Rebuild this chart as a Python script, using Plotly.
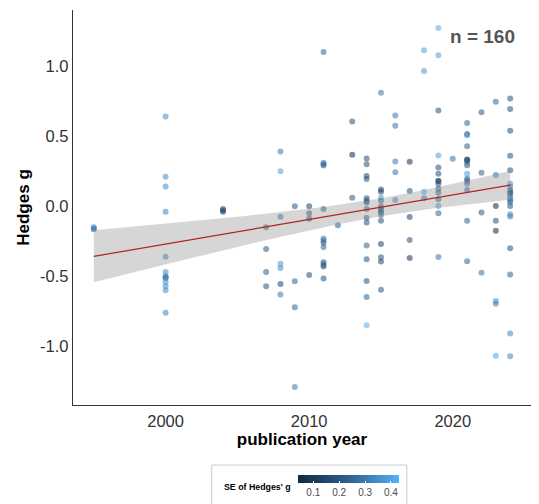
import numpy as np
import plotly.graph_objects as go

# Effect sizes (Hedges g), publication year and standard error of each effect
year = (
    [1995] * 3
    + [2000] * 13
    + [2004] * 3
    + [2007] * 4
    + [2008] * 7
    + [2009] * 4
    + [2010] * 4
    + [2011] * 13
    + [2012] * 1
    + [2013] * 3
    + [2014] * 15
    + [2015] * 15
    + [2016] * 5
    + [2017] * 5
    + [2018] * 4
    + [2019] * 15
    + [2020] * 1
    + [2021] * 15
    + [2022] * 4
    + [2023] * 8
    + [2024] * 21
)

hedges_g = [
    -0.15, -0.165, -0.16,
    0.64, 0.21, 0.14, -0.04, -0.36, -0.47, -0.50, -0.51, -0.51, -0.54, -0.57, -0.60, -0.76,
    -0.02, -0.04, -0.03,
    -0.15, -0.305, -0.47, -0.57,
    0.39, 0.25, -0.075, -0.41, -0.44, -0.555, -0.63,
    0.0, -0.535, -0.72, -1.29,
    0.0, -0.05, -0.09, -0.49,
    1.10, 0.31, 0.30, 0.29, -0.02, -0.23, -0.245, -0.26, -0.29, -0.40, -0.42, -0.43, -0.515,
    -0.135,
    0.605, 0.367, 0.06,
    0.34, 0.30, 0.215, 0.195, 0.057, 0.04, 0.026, -0.02, -0.083, -0.116, -0.28, -0.378, -0.534, -0.648, -0.85,
    0.81, 0.12, 0.104, 0.062, 0.04, 0.0, -0.016, -0.03, -0.045, -0.062, -0.104, -0.27, -0.364, -0.395, -0.596,
    0.648, 0.574, 0.32, 0.243, 0.045,
    0.317, 0.109, -0.076, -0.24, -0.37,
    1.113, 0.965, 0.104, 0.057,
    1.272, 1.078, 0.683, 0.362, 0.277, 0.232, 0.18, 0.18, 0.16, 0.125, 0.097, 0.05, 0.002, -0.05, -0.362,
    0.338,
    0.593, 0.515, 0.506, 0.428, 0.333, 0.33, 0.317, 0.293, 0.232, 0.196, 0.18, 0.161, 0.116, -0.104, -0.392,
    0.671, 0.239, -0.045, -0.475,
    0.745, 0.222, 0.002, -0.104, -0.175, -0.676, -0.695, -1.066,
    0.768, 0.693, 0.539, 0.36, 0.257, 0.163, 0.14, 0.116, 0.10, 0.092, 0.069, 0.05, 0.045, 0.03, 0.002,
    -0.057, -0.073, -0.30, -0.487, -0.908, -1.071,
]

se_g = [
    0.30, 0.30, 0.30,
    0.35, 0.35, 0.35, 0.33, 0.30, 0.35, 0.30, 0.30, 0.30, 0.35, 0.35, 0.35, 0.33,
    0.15, 0.15, 0.15,
    0.22, 0.22, 0.22, 0.22,
    0.30, 0.40, 0.25, 0.38, 0.35, 0.15, 0.30,
    0.22, 0.25, 0.25, 0.30,
    0.15, 0.18, 0.15, 0.18,
    0.25, 0.30, 0.25, 0.25, 0.20, 0.30, 0.28, 0.22, 0.25, 0.15, 0.20, 0.22, 0.20,
    0.22,
    0.20, 0.05, 0.22,
    0.20, 0.20, 0.15, 0.20, 0.20, 0.20, 0.15, 0.20, 0.20, 0.20, 0.25, 0.20, 0.20, 0.25, 0.43,
    0.30, 0.10, 0.15, 0.40, 0.20, 0.20, 0.25, 0.20, 0.15, 0.25, 0.20, 0.15, 0.20, 0.15, 0.22,
    0.30, 0.30, 0.30, 0.30, 0.30,
    0.08, 0.20, 0.15, 0.20, 0.08,
    0.40, 0.38, 0.40, 0.25,
    0.42, 0.40, 0.20, 0.40, 0.20, 0.20, 0.10, 0.15, 0.20, 0.20, 0.20, 0.20, 0.35, 0.25, 0.30,
    0.28,
    0.25, 0.20, 0.35, 0.25, 0.08, 0.15, 0.20, 0.20, 0.38, 0.25, 0.20, 0.25, 0.20, 0.25, 0.25,
    0.22, 0.25, 0.22, 0.28,
    0.25, 0.28, 0.04, 0.20, 0.06, 0.35, 0.30, 0.40,
    0.20, 0.20, 0.20, 0.20, 0.20, 0.38, 0.30, 0.25, 0.25, 0.20, 0.25, 0.30, 0.35, 0.25, 0.20,
    0.35, 0.30, 0.20, 0.25, 0.33, 0.33,
]

x_tick_vals = [2000, 2010, 2020]
y_tick_vals = [-1.0, -0.5, 0.0, 0.5, 1.0]
y_tick_text = ["-1.0", "-0.5", "0.0", "0.5", "1.0"]
se_tick_vals = [0.1, 0.2, 0.3, 0.4]
se_tick_text = ["0.1", "0.2", "0.3", "0.4"]

FONT = "Liberation Sans, Arial, sans-serif"

# Ordinary least squares fit with a 95% confidence band for the mean
x = np.array(year, dtype=float)
y = np.array(hedges_g, dtype=float)
n = len(x)
slope, intercept = np.polyfit(x, y, 1)
xs = np.linspace(x.min(), x.max(), 100)
fit = intercept + slope * xs
resid = y - (intercept + slope * x)
s = np.sqrt(np.sum(resid ** 2) / (n - 2))
sxx = np.sum((x - x.mean()) ** 2)
half = 1.975 * s * np.sqrt(1.0 / n + (xs - x.mean()) ** 2 / sxx)
lower, upper = fit - half, fit + half

# axis ranges padded by 5% of the data span on each side
xpad = 0.05 * (x.max() - x.min())
ypad = 0.05 * (y.max() - y.min())
x_range = [x.min() - xpad, x.max() + xpad]
y_range = [y.min() - ypad, y.max() + ypad]

fig = go.Figure()

fig.add_trace(go.Scatter(
    x=year, y=hedges_g, mode="markers",
    marker=dict(
        size=6, opacity=0.56, color=se_g,
        colorscale=[[0, "#132B43"], [0.5, "#2F5F8A"], [1, "#56B1F7"]],
        cmin=min(se_g), cmax=max(se_g),
        line=dict(width=0),
        colorbar=dict(
            orientation="h", x=0.601, xanchor="center",
            y=-0.177, yanchor="top",
            lenmode="pixels", len=101, thickness=8,
            xpad=0, ypad=0, outlinewidth=0,
            tickvals=se_tick_vals, ticktext=se_tick_text,
            ticks="inside", ticklen=2, tickcolor="white",
            tickfont=dict(family=FONT, size=10, color="#4d4d4d"),
        ),
    ),
    showlegend=False, hoverinfo="skip",
))

fig.add_trace(go.Scatter(
    x=np.concatenate([xs, xs[::-1]]),
    y=np.concatenate([upper, lower[::-1]]),
    fill="toself", fillcolor="rgba(153,153,153,0.4)",
    line=dict(width=0), mode="lines", showlegend=False, hoverinfo="skip",
))

fig.add_trace(go.Scatter(
    x=xs, y=fit, mode="lines",
    line=dict(color="#B22222", width=1.2),
    showlegend=False, hoverinfo="skip",
))

fig.update_layout(
    width=539, height=504,
    margin=dict(l=73, r=8, t=10, b=99, autoexpand=False),
    paper_bgcolor="white", plot_bgcolor="white",
    font=dict(family=FONT),
    xaxis=dict(
        range=x_range, showgrid=False, zeroline=False, automargin=False,
        showline=True, linecolor="#333333", linewidth=1.4,
        ticks="", tickvals=x_tick_vals, ticklabelstandoff=1,
        tickfont=dict(family=FONT, size=16.5, color="#333333"),
        title=dict(text="publication year", standoff=3,
                   font=dict(family=FONT, size=17, color="black", weight="bold")),
    ),
    yaxis=dict(
        range=y_range, showgrid=False, zeroline=False, automargin=False,
        showline=True, linecolor="#333333", linewidth=1.4,
        ticks="", tickvals=y_tick_vals, ticktext=y_tick_text,
        tickfont=dict(family=FONT, size=16.5, color="#333333"),
        title=dict(text="Hedges g", standoff=6,
                   font=dict(family=FONT, size=17, color="black", weight="bold")),
    ),
    annotations=[
        dict(text="n = 160", x=0.969, y=0.934, xref="paper", yref="paper",
             xanchor="right", yanchor="middle", showarrow=False,
             font=dict(family=FONT, size=19, color="#555555", weight="bold")),
        dict(text="SE of Hedges' g", x=0.403, y=-0.2076, xref="paper", yref="paper",
             xanchor="center", yanchor="middle", showarrow=False,
             font=dict(family=FONT, size=8.8, color="black", weight="bold")),
    ],
    shapes=[
        dict(type="rect", xref="paper", yref="paper",
             x0=0.303, x1=0.729, y0=-0.27, y1=-0.152,
             line=dict(color="#cccccc", width=1), fillcolor="rgba(0,0,0,0)"),
    ],
)

fig.write_html("out.html")
